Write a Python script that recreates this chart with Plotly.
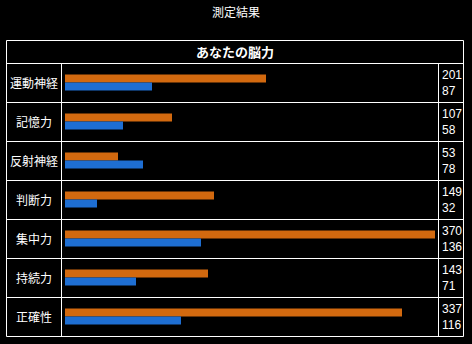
import plotly.graph_objects as go

# ---- data ----
title_text = "測定結果"
header_text = "あなたの脳力"
categories = ["運動神経", "記憶力", "反射神経", "判断力", "集中力", "持続力", "正確性"]
series_a = [201, 107, 53, 149, 370, 143, 337]   # orange
series_b = [87, 58, 78, 32, 136, 71, 116]       # blue

# ---- layout constants (pixels) ----
W, H = 472, 344
TABLE_L, TABLE_R = 6, 463
TABLE_T = 40
HEADER_B = 63
ROW_H = 39
LABEL_R = 61
VALUE_L = 438
BAR_X0 = 65
n = len(categories)
TABLE_B = HEADER_B + ROW_H * n

ORANGE = "#D2690F"
BLUE = "#1E6ED2"
FONT = "Noto Sans CJK JP"


def px(x):
    return x / W


def py(y):
    return 1 - y / H


fig = go.Figure()
fig.add_trace(go.Bar(y=categories, x=series_a, orientation="h",
                     marker=dict(color=ORANGE, line=dict(width=0)),
                     hoverinfo="skip", showlegend=False))
fig.add_trace(go.Bar(y=categories, x=series_b, orientation="h",
                     marker=dict(color=BLUE, line=dict(width=0)),
                     hoverinfo="skip", showlegend=False))

shapes = []
line = dict(color="white", width=1)
# outer box
shapes.append(dict(type="rect", xref="paper", yref="paper",
                   x0=px(TABLE_L + 0.5), x1=px(TABLE_R + 0.5),
                   y0=py(TABLE_T + 0.5), y1=py(TABLE_B + 0.5), line=line))
# horizontal row lines
for i in range(n):
    yy = HEADER_B + ROW_H * i + 0.5
    shapes.append(dict(type="line", xref="paper", yref="paper",
                       x0=px(TABLE_L), x1=px(TABLE_R + 1), y0=py(yy), y1=py(yy), line=line))
# vertical column lines
for xx in (LABEL_R + 0.5, VALUE_L + 0.5):
    shapes.append(dict(type="line", xref="paper", yref="paper",
                       x0=px(xx), x1=px(xx), y0=py(HEADER_B), y1=py(TABLE_B), line=line))

annotations = []
annotations.append(dict(text="<b>" + header_text + "</b>", xref="paper", yref="paper",
                        x=px((TABLE_L + TABLE_R) / 2), y=py(51.5), showarrow=False,
                        font=dict(family=FONT, size=13, color="white"),
                        xanchor="center", yanchor="middle"))
for c, a, b in zip(categories, series_a, series_b):
    annotations.append(dict(text=c, xref="paper", yref="y", x=px((TABLE_L + LABEL_R) / 2 + 0.5), y=c,
                            showarrow=False, font=dict(family=FONT, size=12, color="white"),
                            xanchor="center", yanchor="middle"))
    annotations.append(dict(text=f"{a}<br>{b}", xref="paper", yref="y", x=px(VALUE_L + 2), y=c,
                            showarrow=False, align="left",
                            font=dict(family="Liberation Sans Narrow, Liberation Sans", size=12, color="white"),
                            xanchor="left", yanchor="middle"))

fig.update_layout(
    width=W, height=H,
    margin=dict(l=0, r=0, t=0, b=0),
    paper_bgcolor="black", plot_bgcolor="black",
    title=dict(text=title_text, x=0.5, xanchor="center", xref="paper",
               y=py(13), yref="container", yanchor="middle",
               font=dict(family=FONT, size=12, color="white")),
    barmode="group", bargap=1 - 16 / ROW_H, bargroupgap=0,
    xaxis=dict(domain=[px(BAR_X0), px(VALUE_L)], range=[0, VALUE_L - BAR_X0],
               showgrid=False, zeroline=False, showticklabels=False, ticks="", fixedrange=True),
    yaxis=dict(domain=[py(TABLE_B), py(HEADER_B)], range=[n - 0.5, -0.5],
               categoryorder="array", categoryarray=categories,
               showgrid=False, zeroline=False, showticklabels=False, ticks="", fixedrange=True),
    shapes=shapes, annotations=annotations,
)

fig.write_html("out.html")
